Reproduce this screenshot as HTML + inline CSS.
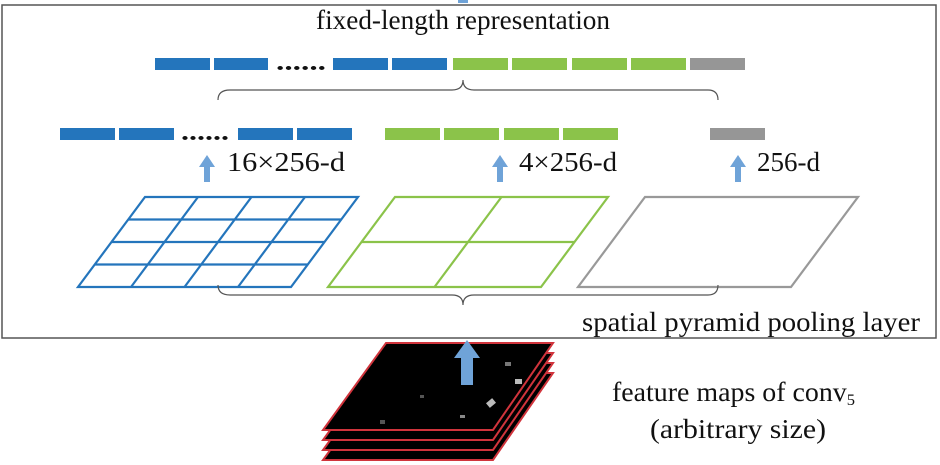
<!DOCTYPE html>
<html><head><meta charset="utf-8"><style>
html,body{margin:0;padding:0;background:#fff;width:940px;height:465px;overflow:hidden}
svg text{font-family:"Liberation Serif",serif;fill:#111}
</style></head><body>
<svg width="940" height="465" viewBox="0 0 940 465" xmlns="http://www.w3.org/2000/svg">
<rect x="2" y="5" width="934" height="333" fill="#fff" stroke="#555" stroke-width="1.5"/>
<rect x="458" y="0" width="10" height="3" fill="#6fa3d8"/>
<text x="316" y="29" font-size="27" textLength="294" lengthAdjust="spacingAndGlyphs">fixed-length representation</text>
<g fill="#2475bc">
<rect x="155" y="58" width="55" height="12"/><rect x="214" y="58" width="54" height="12"/>
<rect x="333" y="58" width="55" height="12"/><rect x="392" y="58" width="55" height="12"/>
</g>
<text x="276" y="70" font-size="24" font-weight="bold" textLength="50" lengthAdjust="spacingAndGlyphs">......</text>
<g fill="#8bc34a">
<rect x="453" y="58" width="55" height="12"/><rect x="512" y="58" width="55" height="12"/>
<rect x="572" y="58" width="55" height="12"/><rect x="631" y="58" width="55" height="12"/>
</g>
<rect x="690" y="58" width="55" height="12" fill="#969696"/>
<path d="M218,100 Q218,90 230,90 L452,90 Q463,90 463,80 Q463,90 474,90 L708,90 Q718,90 718,100" fill="none" stroke="#555" stroke-width="1.2"/>
<g fill="#2475bc">
<rect x="60" y="128" width="55" height="12"/><rect x="119" y="128" width="55" height="12"/>
<rect x="238" y="128" width="55" height="12"/><rect x="297" y="128" width="55" height="12"/>
</g>
<text x="181" y="140" font-size="24" font-weight="bold" textLength="48" lengthAdjust="spacingAndGlyphs">......</text>
<g fill="#8bc34a">
<rect x="385" y="128" width="55" height="12"/><rect x="444" y="128" width="55" height="12"/>
<rect x="504" y="128" width="55" height="12"/><rect x="563" y="128" width="55" height="12"/>
</g>
<rect x="710" y="128" width="55" height="12" fill="#969696"/>
<g fill="#6fa3d8">
<path d="M207,155 L215,167 L210,167 L210,182 L204,182 L204,167 L199,167Z"/>
<path d="M500,155 L508,167 L503,167 L503,182 L497,182 L497,167 L492,167Z"/>
<path d="M738,155 L746,167 L741,167 L741,182 L735,182 L735,167 L730,167Z"/>
</g>
<text x="227" y="171" font-size="27" textLength="118" lengthAdjust="spacingAndGlyphs">16×256-d</text>
<text x="519" y="171" font-size="27" textLength="98" lengthAdjust="spacingAndGlyphs">4×256-d</text>
<text x="757" y="171" font-size="27" textLength="63" lengthAdjust="spacingAndGlyphs">256-d</text>
<g fill="none" stroke="#2475bc" stroke-width="2.2">
<path d="M145,197 L358,197 L291,287 L78,287Z"/>
<path d="M128,219.5 L341,219.5 M111,242 L324,242 M95,264.5 L308,264.5"/>
<path d="M198,197 L131,287 M251.5,197 L184.5,287 M305,197 L238,287"/>
</g>
<g fill="none" stroke="#8bc34a" stroke-width="2.2">
<path d="M395,197 L608,197 L541,287 L328,287Z"/>
<path d="M361.5,242 L574.5,242 M501.5,197 L434.5,287"/>
</g>
<path d="M645,197 L858,197 L791,287 L578,287Z" fill="none" stroke="#999" stroke-width="2.2"/>
<path d="M218,285 Q218,295 230,295 L452,295 Q463,295 463,305 Q463,295 474,295 L708,295 Q718,295 718,285" fill="none" stroke="#555" stroke-width="1.2"/>
<text x="582" y="331" font-size="27" textLength="338" lengthAdjust="spacingAndGlyphs">spatial pyramid pooling layer</text>
<g stroke="#d0343c" stroke-width="2" fill="#000">
<path d="M386,373 L553,373 L493,460 L323,460Z"/>
<path d="M386,363 L553,363 L493,450 L323,450Z"/>
<path d="M386,353 L553,353 L493,440 L323,440Z"/>
<path d="M386,343 L553,343 L493,430 L323,430Z"/>
</g>
<g fill="#bbb">
<rect x="487" y="400" width="8" height="6" transform="rotate(-40 491 403)"/>
<rect x="515" y="379" width="7" height="5"/>
<rect x="505" y="362" width="6" height="4" fill="#777"/>
<rect x="460" y="415" width="5" height="3" fill="#888"/>
<rect x="380" y="420" width="5" height="4" fill="#555"/>
<rect x="420" y="395" width="4" height="3" fill="#555"/>
</g>
<path d="M467,340 L480,358 L473,358 L473,385 L461,385 L461,358 L454,358Z" fill="#6fa3d8"/>
<text x="612" y="401" font-size="27" textLength="243" lengthAdjust="spacingAndGlyphs">feature maps of conv<tspan font-size="16" dy="4">5</tspan></text>
<text x="650" y="438" font-size="27" textLength="176" lengthAdjust="spacingAndGlyphs">(arbitrary size)</text>
</svg>
</body></html>
